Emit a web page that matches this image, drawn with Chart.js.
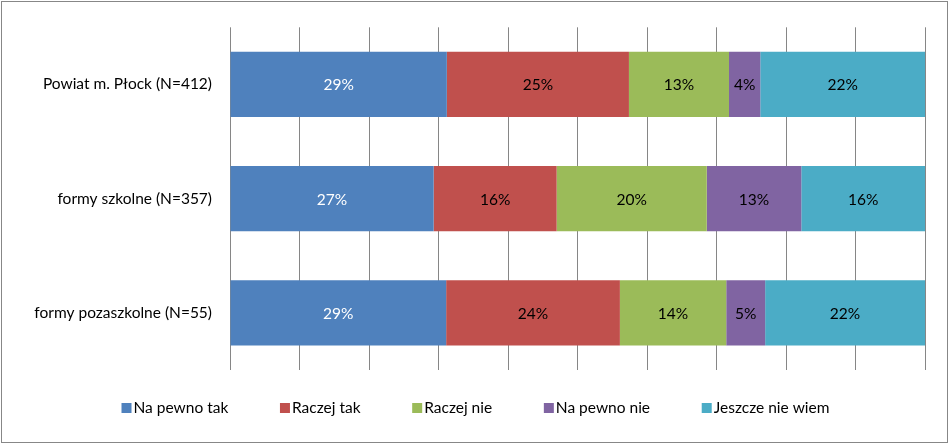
<!DOCTYPE html>
<html>
<head>
<meta charset="utf-8">
<script src="https://cdn.jsdelivr.net/npm/chart.js@4/dist/chart.umd.min.js"></script>
<style>
  body { margin: 0; background: #ffffff; }
  #wrap { position: relative; width: 949px; height: 444px; }
  #frame {
    position: absolute; left: 1px; top: 1px; width: 945px; height: 440px;
    border: 1px solid #878787; pointer-events: none;
  }
  canvas { position: absolute; left: 0; top: 0; }
</style>
</head>
<body>
<div id="wrap">
  <canvas id="chart" width="949" height="444"></canvas>
  <div id="frame"></div>
</div>
<script>
// Categories (rows) and the answers shown in each row
const categories = [
    "Powiat m. Płock (N=412)",
    "formy szkolne (N=357)",
    "formy pozaszkolne (N=55)"
];
const seriesNames = ["Na pewno tak", "Raczej tak", "Raczej nie", "Na pewno nie", "Jeszcze nie wiem"];

// Segment lengths as shares of the full bar
const naPewnoTak = [31.2, 29.3, 31.1];
const raczejTak = [26.2, 17.7, 25.0];
const raczejNie = [14.4, 21.6, 15.3];
const naPewnoNie = [4.5, 13.6, 5.6];
const jeszczeNieWiem = [23.7, 17.8, 23.0];

// Percent labels as printed on the bars
const naPewnoTakLabels = [29, 27, 29];
const raczejTakLabels = [25, 16, 24];
const raczejNieLabels = [13, 20, 14];
const naPewnoNieLabels = [4, 13, 5];
const jeszczeNieWiemLabels = [22, 16, 22];

const COLORS = ["#4F81BD", "#C0504D", "#9BBB59", "#8064A2", "#4BACC6"];
const FONT = "Lato";
const FONT_SIZE = 15.5;

const allSeries = [naPewnoTak, raczejTak, raczejNie, naPewnoNie, jeszczeNieWiem];
const allLabels = [naPewnoTakLabels, raczejTakLabels, raczejNieLabels, naPewnoNieLabels, jeszczeNieWiemLabels];

const datasets = allSeries.map((arr, k) => ({
    label: seriesNames[k],
    data: arr,
    shown: allLabels[k],
    backgroundColor: COLORS[k],
    borderWidth: 0,
    barPercentage: 0.57,
    categoryPercentage: 1.0
}));

// Draws the value labels in the middle of every segment
const valueLabels = {
    id: "valueLabels",
    afterDatasetsDraw(chart) {
        const ctx = chart.ctx;
        ctx.save();
        ctx.font = FONT_SIZE + "px " + FONT;
        ctx.textAlign = "center";
        ctx.textBaseline = "middle";
        chart.data.datasets.forEach((ds, k) => {
            const meta = chart.getDatasetMeta(k);
            meta.data.forEach((bar, i) => {
                ctx.fillStyle = k === 0 ? "#ffffff" : "#000000";
                ctx.fillText(ds.shown[i] + "%", (bar.x + bar.base) / 2, bar.y + 1);
            });
        });
        ctx.restore();
    }
};

// Legend row at the bottom, squares close to their text
const bottomLegend = {
    id: "bottomLegend",
    afterDraw(chart) {
        const ctx = chart.ctx;
        const box = 10, gap = 2;
        ctx.save();
        ctx.font = FONT_SIZE + "px " + FONT;
        ctx.textBaseline = "middle";
        const widths = chart.data.datasets.map(ds => box + gap + ctx.measureText(ds.label).width);
        const spacing = (708 - widths.reduce((a, b) => a + b, 0)) / (widths.length - 1);
        const total = widths.reduce((a, b) => a + b, 0) + spacing * (widths.length - 1);
        let x = chart.width / 2 + 1 - total / 2;
        const y = 408;
        chart.data.datasets.forEach((ds, k) => {
            ctx.fillStyle = ds.backgroundColor;
            ctx.fillRect(x, y - box / 2, box, box);
            ctx.fillStyle = "#000000";
            ctx.fillText(ds.label, x + box + gap, y);
            x += widths[k] + spacing;
        });
        ctx.restore();
    }
};

const ctx = document.getElementById("chart").getContext("2d");
const chart = new Chart(ctx, {
    type: "bar",
    data: { labels: categories, datasets: datasets },
    plugins: [valueLabels, bottomLegend],
    options: {
        indexAxis: "y",
        responsive: false,
        animation: false,
        layout: { padding: { top: 26, right: 24, bottom: 74, left: 0 } },
        plugins: {
            legend: { display: false },
            tooltip: { enabled: false }
        },
        scales: {
            x: {
                stacked: true,
                min: 0,
                max: 100,
                ticks: { display: false, stepSize: 10 },
                grid: { color: "#868686", lineWidth: 1, drawTicks: false },
                border: { display: false },
                afterFit(scale) { scale.height = 0; }
            },
            y: {
                stacked: true,
                ticks: {
                    color: "#000000",
                    padding: 18,
                    font: { family: FONT, size: FONT_SIZE }
                },
                grid: { display: false, drawTicks: false },
                border: { display: false },
                afterFit(scale) { scale.width = 230; }
            }
        }
    }
});
</script>
</body>
</html>
